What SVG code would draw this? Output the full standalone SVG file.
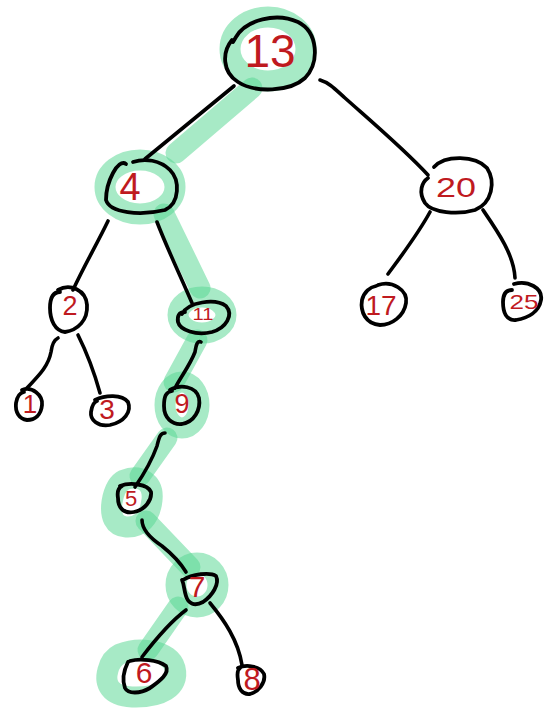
<svg xmlns="http://www.w3.org/2000/svg" width="552" height="712" viewBox="0 0 552 712">
  <style>
    .hl { fill: none; stroke: #56d692; stroke-opacity: 0.52; stroke-width: 21; stroke-linecap: round; stroke-linejoin: round; }
    .edge { fill: none; stroke: #000; stroke-width: 3.6; stroke-linecap: round; stroke-linejoin: round; }
    .ring { fill: none; stroke: #000; stroke-width: 3.8; stroke-linecap: round; stroke-linejoin: round; }
    .lbl { fill: #bf1a1f; font-family: "Liberation Sans", Arial, sans-serif; text-anchor: middle; dominant-baseline: central; }
  </style>
  <rect width="552" height="712" fill="#fff"/>

  <!-- highlighted search path: 13 -> 4 -> 11 -> 9 -> 5 -> 7 -> 6 -->
  <g id="highlight">
    <ellipse class="hl" cx="268" cy="49" rx="38" ry="32"/>
    <path class="hl" d="M252 88 L176 153"/>
    <ellipse class="hl" cx="140" cy="187" rx="35" ry="27"/>
    <path class="hl" d="M164 214 L200 288"/>
    <ellipse class="hl" cx="202" cy="315" rx="24" ry="18"/>
    <path class="hl" d="M197 340 L174 382"/>
    <ellipse class="hl" cx="182" cy="405" rx="17" ry="23"/>
    <path class="hl" d="M167 438 L140 476"/>
    <path class="hl" d="M124 480 C140 474 154 482 152 500 C150 518 140 528 126 527 C114 526 110 516 112 502 C114 490 118 483 124 480 Z"/>
    <path class="hl" d="M146 521 L190 567"/>
    <ellipse class="hl" cx="197" cy="585" rx="21" ry="22"/>
    <path class="hl" d="M178 607 L148 650"/>
    <path class="hl" d="M120 654 C140 646 170 650 175 668 C180 688 160 698 132 697 C110 696 104 684 108 670 C110 662 114 657 120 654 Z"/>
  </g>

  <!-- tree connectors -->
  <g id="connectors">
    <path class="edge" d="M234 86 L145 159"/>
    <path class="edge" d="M320 80 C330 83 336 90 345 98 C372 122 405 150 428 175"/>
    <path class="edge" d="M108 221 C97 244 84 266 73 290"/>
    <path class="edge" d="M157 222 C167 248 180 275 192 303"/>
    <path class="edge" d="M430 212 C418 234 402 255 388 274"/>
    <path class="edge" d="M483 210 C498 232 514 255 515 278"/>
    <path class="edge" d="M58 338 C54 340 52 344 51 352 C48 368 36 378 27 388"/>
    <path class="edge" d="M78 335 C88 355 95 375 100 393"/>
    <path class="edge" d="M201 342 C197 340 196 346 195 352 C190 365 182 375 175 388"/>
    <path class="edge" d="M165 433 C160 433 159 438 157 446 C152 460 144 474 135 487"/>
    <path class="edge" d="M142 520 C142 530 150 538 162 546 C172 554 180 562 186 572"/>
    <path class="edge" d="M186 610 C170 622 155 640 142 657"/>
    <path class="edge" d="M210 603 C224 620 238 640 242 665"/>
  </g>

  <g id="n13">
    <path class="ring" d="M233 42 L236 37 C246 20 276 12 298 22 C318 32 320 62 305 78 C290 92 255 93 238 82 C222 72 222 52 232 40"/>
    <text class="lbl" x="270" y="51" font-size="46">13</text>
  </g>
  <g id="n4">
    <path class="ring" d="M126 164 C118 158 106 182 106 200 C110 213 140 216 165 210 C180 203 180 180 170 170 C160 160 145 158 133 162"/>
    <text class="lbl" x="130" y="187" font-size="38">4</text>
  </g>
  <g id="n20">
    <path class="ring" d="M434 167 C445 155 475 155 487 168 C496 182 492 203 475 210 C458 215 432 213 425 203 C418 192 422 182 428 178"/>
    <text class="lbl" x="456" y="187" font-size="28" textLength="40" lengthAdjust="spacingAndGlyphs">20</text>
  </g>
  <g id="n2">
    <path class="ring" d="M58 290 C70 283 86 290 87 305 C88 320 78 330 65 332 C55 331 50 320 50 308 C50 298 53 292 60 292"/>
    <text class="lbl" x="70" y="306" font-size="27">2</text>
  </g>
  <g id="n11">
    <path class="ring" d="M182 314 C188 302 215 298 226 306 C234 315 226 328 212 332 C196 336 180 330 178 322 C177 316 179 312 185 312"/>
    <text class="lbl" x="203" y="314" font-size="17" textLength="21" lengthAdjust="spacingAndGlyphs">11</text>
  </g>
  <g id="n17">
    <path class="ring" d="M378 285 C392 280 408 290 406 303 C404 316 392 325 380 325 C366 324 360 312 362 300 C364 292 370 287 376 286"/>
    <text class="lbl" x="381" y="305" font-size="28">17</text>
  </g>
  <g id="n25">
    <path class="ring" d="M514 284 C528 280 543 288 541 300 C539 312 528 318 516 320 C506 321 503 312 503 302 C503 294 506 290 512 290"/>
    <text class="lbl" x="524" y="301" font-size="21" textLength="29" lengthAdjust="spacingAndGlyphs">25</text>
  </g>
  <g id="n1">
    <path class="ring" d="M22 390 C32 386 43 395 42 405 C41 415 35 420 27 420 C19 419 15 412 16 403 C17 397 19 393 24 392"/>
    <text class="lbl" x="30" y="404" font-size="26">1</text>
  </g>
  <g id="n3">
    <path class="ring" d="M95 400 C105 395 122 394 128 402 C132 412 124 422 110 425 C98 427 90 420 91 412 C92 405 94 402 97 401"/>
    <text class="lbl" x="107" y="409" font-size="28">3</text>
  </g>
  <g id="n9">
    <path class="ring" d="M170 390 C180 384 196 386 199 398 C201 410 194 422 182 424 C172 425 164 418 164 406 C164 396 166 392 172 391"/>
    <text class="lbl" x="182" y="404" font-size="27">9</text>
  </g>
  <g id="n5">
    <path class="ring" d="M120 486 C130 482 148 484 151 492 C152 500 145 510 134 512 C124 514 118 508 118 498 C117 492 118 488 122 486"/>
    <text class="lbl" x="131" y="498" font-size="22">5</text>
  </g>
  <g id="n7">
    <path class="ring" d="M183 580 C192 574 210 572 216 576 C220 584 212 596 203 602 C194 607 188 603 186 596 C184 590 184 584 182 580"/>
    <text class="lbl" x="197" y="586" font-size="30">7</text>
  </g>
  <g id="n6">
    <path class="ring" d="M130 661 C140 658 158 660 166 666 C170 674 158 682 150 688 C140 694 128 694 125 688 C122 680 124 670 128 662"/>
    <text class="lbl" x="144" y="672" font-size="30">6</text>
  </g>
  <g id="n8">
    <path class="ring" d="M238 668 C246 664 260 666 264 674 C266 683 258 692 250 694 C242 695 238 688 238 680 C237 674 237 670 240 668"/>
    <text class="lbl" x="252" y="679" font-size="31">8</text>
  </g>
</svg>
